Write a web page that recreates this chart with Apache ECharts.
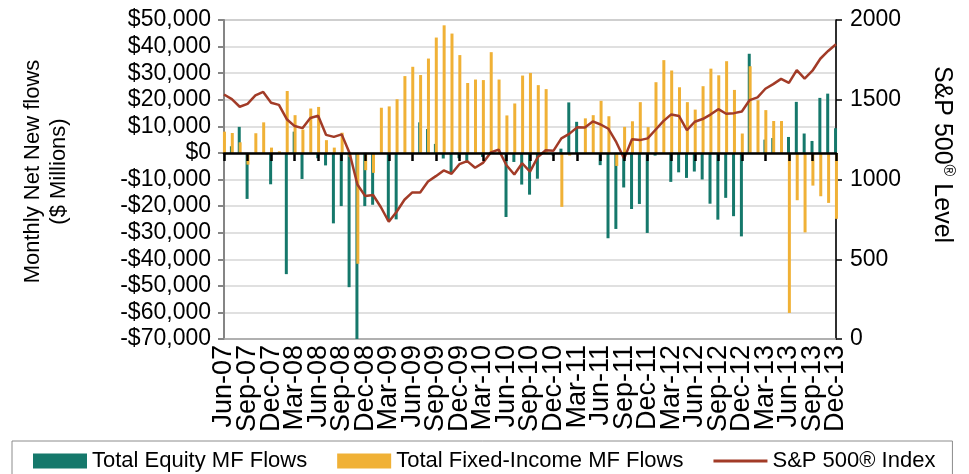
<!DOCTYPE html>
<html><head><meta charset="utf-8">
<script src="https://cdn.jsdelivr.net/npm/echarts@6/dist/echarts.min.js"></script>
<style>html,body{margin:0;padding:0;background:#fff}#c{width:969px;height:474px}</style>
</head><body><div id="c"></div>
<script>
const months = [
 'Jun-07','Jul-07','Aug-07','Sep-07','Oct-07','Nov-07','Dec-07',
 'Jan-08','Feb-08','Mar-08','Apr-08','May-08','Jun-08','Jul-08','Aug-08','Sep-08','Oct-08','Nov-08','Dec-08',
 'Jan-09','Feb-09','Mar-09','Apr-09','May-09','Jun-09','Jul-09','Aug-09','Sep-09','Oct-09','Nov-09','Dec-09',
 'Jan-10','Feb-10','Mar-10','Apr-10','May-10','Jun-10','Jul-10','Aug-10','Sep-10','Oct-10','Nov-10','Dec-10',
 'Jan-11','Feb-11','Mar-11','Apr-11','May-11','Jun-11','Jul-11','Aug-11','Sep-11','Oct-11','Nov-11','Dec-11',
 'Jan-12','Feb-12','Mar-12','Apr-12','May-12','Jun-12','Jul-12','Aug-12','Sep-12','Oct-12','Nov-12','Dec-12',
 'Jan-13','Feb-13','Mar-13','Apr-13','May-13','Jun-13','Jul-13','Aug-13','Sep-13','Oct-13','Nov-13','Dec-13'
];
// Total Equity MF Flows ($ millions)
const equityFlows = [
 0, 2500, 9800, -17300, 0, 0, -11800, 0, -45600, 8000, -9800,
 0, -2000, -4700, -26500, -20000, -50500, -70500, -20000, -19500, 0, -25500,
 -25000, 0, 0, 11500, 9000, 3400, -2100, -7300, -2000, -3000, 0, -1500,
 0, 0, -24100, -3400, -11900, -15700, -9700, 0, -1000, 1600, 19000,
 11700, 0, 0, -4600, -32100, -28600, -13000, -21100, -19200, -30100, -1000,
 0, -10900, -7300, -9400, -7000, -10000, -19100, -25100, -16900, -23800, -31400,
 37300, 0, 5000, 5600, 0, 6000, 19200, 7300, 4500, 20700, 22300, 9300
];
// Total Fixed-Income MF Flows ($ millions)
const fixedIncomeFlows = [
 8000, 7500, 4000, -4400, 7400, 11500, 2000, 600, 23300, 14200, 8800,
 16700, 17300, 4800, 2000, 7600, -1500, -41700, -6500, -7500, 17000, 17500,
 20200, 28900, 32400, 29300, 35500, 43400, 48000, 44900, 36800, 26300, 27600, 27400,
 37900, 27600, 14100, 18600, 29100, 30100, 25500, 24000, 0, -20300, -1000,
 0, 13000, 14200, 19600, 13800, -4900, 9800, 11900, 19100, 9700, 26600,
 34900, 31000, 24700, 19100, 16300, 25100, 31700, 29200, 34500, 23700, 7300,
 32600, 19800, 16100, 12000, 12000, -60200, -17800, -29900, -12300, -16300, -18800, -24800
];
// S&P 500 Index level
const sp500 = [
 1533, 1504, 1456, 1474, 1527, 1549, 1481, 1468, 1378, 1335, 1322,
 1386, 1400, 1280, 1267, 1283, 1166, 969, 896, 903, 826, 735,
 798, 873, 919, 919, 987, 1021, 1057, 1036, 1096, 1115, 1074, 1104,
 1169, 1187, 1089, 1031, 1102, 1049, 1141, 1183, 1181, 1258, 1286,
 1327, 1326, 1364, 1345, 1318, 1234, 1131, 1253, 1247, 1258, 1312,
 1366, 1408, 1398, 1310, 1362, 1379, 1407, 1441, 1412, 1416, 1426,
 1498, 1515, 1569, 1598, 1631, 1606, 1686, 1633, 1682, 1757, 1806, 1848
];
const leftAxisRange = {min: -70000, max: 50000, step: 10000};
const rightAxisRange = {min: 0, max: 2000, step: 500};
const labelEvery = 3;
const seriesNames = ['Total Equity MF Flows', 'Total Fixed-Income MF Flows', 'S&P 500® Index'];

const FONT = '"Liberation Sans", Arial, Helvetica, sans-serif';
const TEAL = '#15786B', GOLD = '#F0B136', RED = '#A23B27';

function money(v) {
  const s = Math.abs(v).toLocaleString('en-US');
  return (v < 0 ? '-$' : '$') + s;
}

const chart = echarts.init(document.getElementById('c'), null, {renderer: 'canvas'});
chart.setOption({
  animation: false,
  textStyle: {fontFamily: FONT},
  grid: {left: 224, right: 133, top: 20, bottom: 135, show: true, borderColor: '#a6a6a6', borderWidth: 1.5, containLabel: false},
  legend: {
    left: 12, top: 441, itemWidth: 54, itemHeight: 15, itemGap: 30,
    padding: [9, 17, 20, 21], borderColor: '#8c8c8c', borderWidth: 1,
    textStyle: {fontSize: 22, fontFamily: FONT, color: '#000'},
    data: [
      {name: seriesNames[0], icon: 'rect'},
      {name: seriesNames[1], icon: 'rect'},
      {name: seriesNames[2], icon: 'path://M0,0H54V3H0Z'}
    ]
  },
  xAxis: [
    {
      type: 'category', data: months, boundaryGap: false, position: 'bottom',
      axisLine: {onZero: true, onZeroAxisIndex: 0, lineStyle: {color: '#000', width: 2.5}},
      axisTick: {show: true, interval: labelEvery - 1, length: 8, lineStyle: {color: '#000', width: 2.5}},
      axisLabel: {show: false}, splitLine: {show: false}, z: 5
    },
    {
      type: 'category', data: months, boundaryGap: false, position: 'bottom',
      axisLine: {show: true, onZero: false, lineStyle: {color: '#a6a6a6', width: 1.5}},
      axisTick: {show: false},
      axisLabel: {show: true, interval: 0, rotate: 90, fontSize: 27, lineHeight: 21, color: '#000', margin: 6, fontFamily: FONT,
        showMinLabel: true, showMaxLabel: true, hideOverlap: false, padding: [6, 0, -6, 0],
        formatter: function (v, i) { return i % labelEvery === 0 ? v : ''; }},
      splitLine: {show: false}
    }
  ],
  yAxis: [
    {
      type: 'value', min: leftAxisRange.min, max: leftAxisRange.max, interval: leftAxisRange.step, position: 'left',
      name: 'Monthly Net New flows\n($ Millions)', nameLocation: 'middle', nameGap: 152,
      nameTextStyle: {fontSize: 22, color: '#000', lineHeight: 26, fontFamily: FONT, padding: [0, 0, 0, 16]},
      axisLine: {show: true, lineStyle: {color: '#858585', width: 2}},
      axisTick: {show: true, length: 6, lineStyle: {color: '#858585', width: 2}},
      axisLabel: {fontSize: 23, color: '#000', margin: 13, formatter: money, fontFamily: FONT},
      splitLine: {show: true, lineStyle: {color: '#d6d6d6', width: 1.5}}
    },
    {
      type: 'value', min: rightAxisRange.min, max: rightAxisRange.max, interval: rightAxisRange.step, position: 'right',
      name: 'S&P 500{r|®} Level', nameLocation: 'middle', nameGap: 92, nameRotate: -90,
      nameTextStyle: {fontSize: 25, color: '#000', lineHeight: 28, fontFamily: FONT, padding: [0, 50, 0, 0],
        rich: {r: {fontSize: 16, verticalAlign: 'top', lineHeight: 28, color: '#000', fontFamily: FONT}}},
      axisLine: {show: true, lineStyle: {color: '#000', width: 1.5}},
      axisTick: {show: true, length: 6, lineStyle: {color: '#000', width: 1.5}},
      axisLabel: {fontSize: 23, color: '#000', margin: 14, fontFamily: FONT, formatter: function (v) { return String(v); }},
      splitLine: {show: false}
    }
  ],
  series: [
    {name: seriesNames[0], type: 'bar', xAxisIndex: 0, yAxisIndex: 0, data: equityFlows,
     barWidth: 3, barGap: '-70%', itemStyle: {color: TEAL}},
    {name: seriesNames[1], type: 'bar', xAxisIndex: 0, yAxisIndex: 0, data: fixedIncomeFlows,
     barWidth: 3, barGap: '-70%', itemStyle: {color: GOLD}},
    {name: seriesNames[2], type: 'line', xAxisIndex: 0, yAxisIndex: 1, data: sp500,
     symbol: 'none', lineStyle: {color: RED, width: 2.5}, itemStyle: {color: RED}, z: 4}
  ]
});
</script>
</body></html>
